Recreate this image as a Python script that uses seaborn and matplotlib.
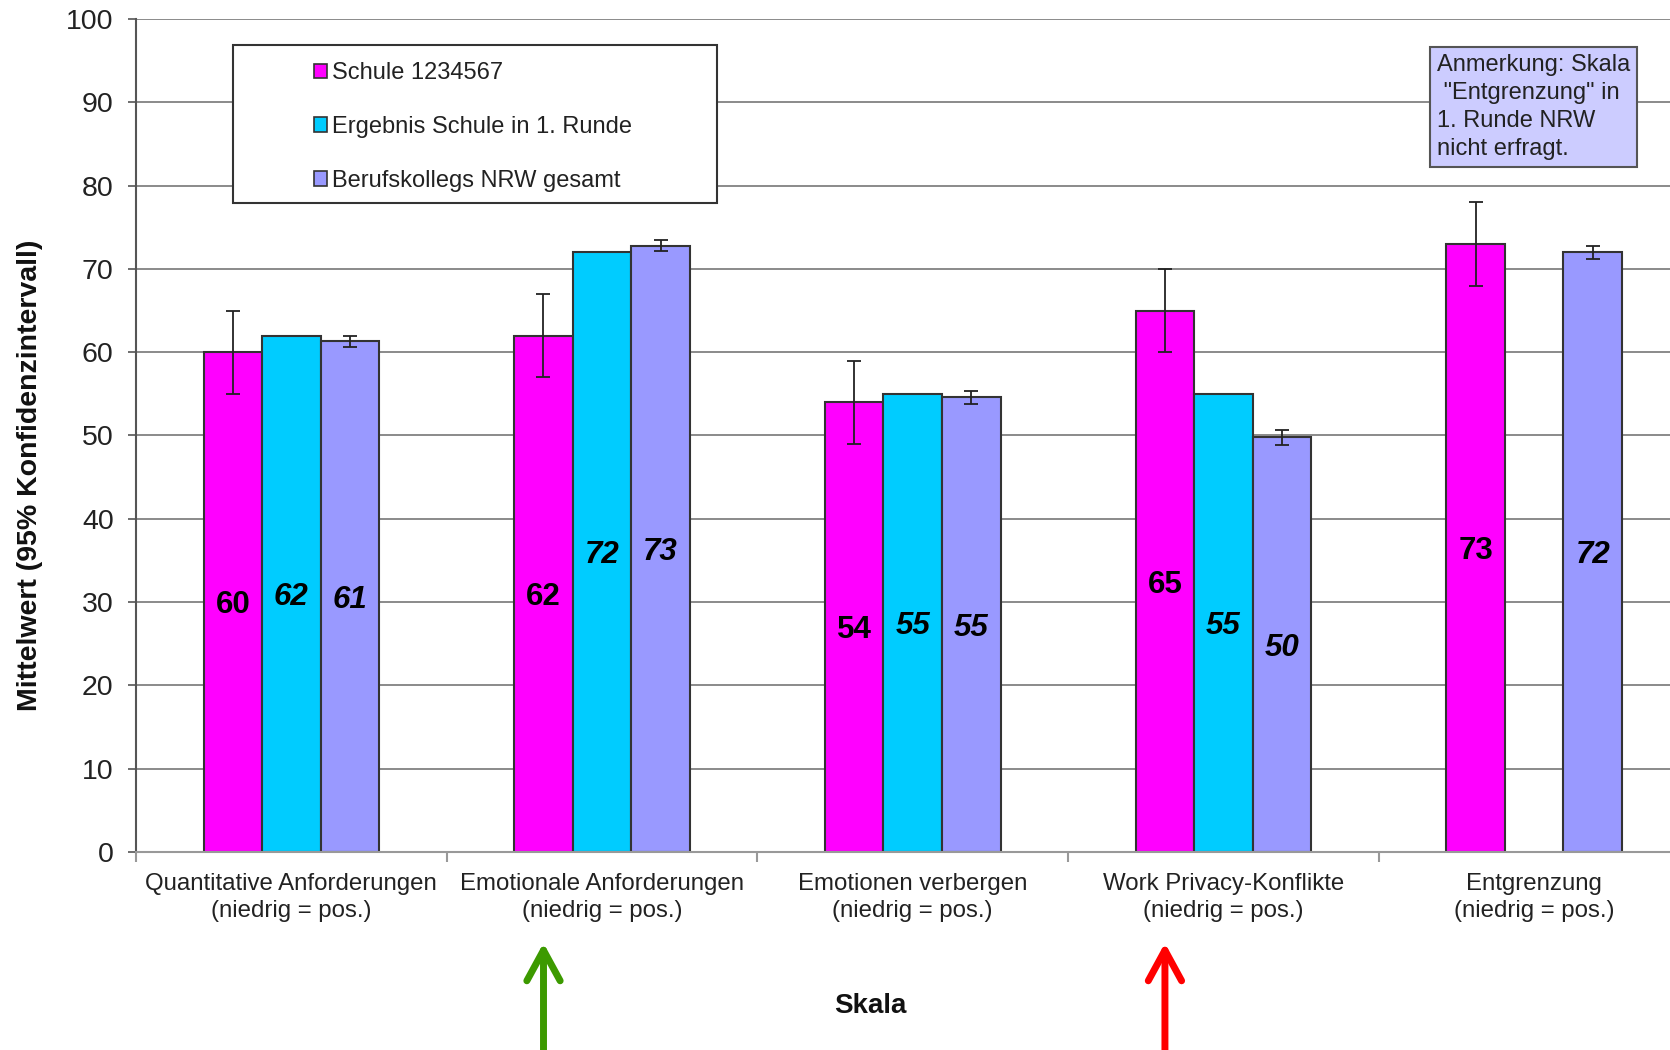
import numpy as np
import pandas as pd
import seaborn as sns
import matplotlib.pyplot as plt
import matplotlib.patches as mpatches

# Werte
skalen = ["Quantitative Anforderungen\n(niedrig = pos.)",
          "Emotionale Anforderungen\n(niedrig = pos.)",
          "Emotionen verbergen\n(niedrig = pos.)",
          "Work Privacy-Konflikte\n(niedrig = pos.)",
          "Entgrenzung\n(niedrig = pos.)"]
gruppen = ["Schule 1234567", "Ergebnis Schule in 1. Runde", "Berufskollegs NRW gesamt"]
schule = [60, 62, 54, 65, 73]
runde1 = [62, 72, 55, 55, np.nan]
nrw = [61.3, 72.8, 54.6, 49.8, 72]
schule_ci = [5, 5, 5, 5, 5]
nrw_ci = [0.7, 0.7, 0.8, 0.9, 0.8]
farben = ["#FF00FF", "#00CCFF", "#9999FF"]

df = pd.DataFrame({
    "Skala": skalen * 3,
    "Gruppe": [g for g in gruppen for _ in skalen],
    "Wert": schule + runde1 + nrw,
})

sns.set_theme(style="white")
plt.rcParams["font.family"] = ["Liberation Sans", "DejaVu Sans"]

fig = plt.figure(figsize=(16.7, 10.5), dpi=100)
ax = fig.add_axes([0.0814, 0.1886, 0.9303, 0.7933])

sns.barplot(data=df, x="Skala", y="Wert", hue="Gruppe", order=skalen, hue_order=gruppen,
            palette=farben, width=0.565, gap=0, errorbar=None, legend=False,
            edgecolor="#333333", linewidth=1.5, saturation=1, ax=ax)

ax.set_xlim(-0.5, 4.5)
ax.set_ylim(0, 100)
ax.set_yticks(range(0, 101, 10))
ax.yaxis.grid(True, color="#8a8a8a", lw=1.4)
ax.set_axisbelow(True)
ax.set_xlabel("")
ax.set_ylabel("")
for s in ["top", "right"]:
    ax.spines[s].set_visible(False)
ax.spines["left"].set_color("#555555")
ax.spines["left"].set_linewidth(1.5)
ax.spines["bottom"].set_color("#999999")
ax.spines["bottom"].set_linewidth(1.5)
ax.tick_params(axis="y", left=True, length=6, width=1.2, color="#555555", pad=10,
               labelsize=20.5, labelcolor="#222222")
ax.tick_params(axis="x", bottom=False, pad=9, labelsize=17.3, labelcolor="#222222")
ax.set_xticks(np.arange(-0.5, 4.6, 1), minor=True)
ax.tick_params(axis="x", which="minor", bottom=True, length=7, width=1.5, color="#999999")
for t in ax.get_xticklabels():
    t.set_linespacing(1.3)

# Fehlerbalken und Beschriftungen
ci_map = {0: schule_ci, 2: nrw_ci}
magenta_x = {}
bar_groups = list(ax.containers)
for i, cont in enumerate(bar_groups):
    for bar in cont.patches:
        h = bar.get_height()
        if np.isnan(h):
            continue
        xc = bar.get_x() + bar.get_width() / 2
        k = int(round(xc))
        if i in ci_map:
            ax.errorbar(xc, h, yerr=ci_map[i][k], fmt="none", ecolor="#222222",
                        elinewidth=1.3, capsize=5, capthick=1.3, zorder=5)
        if i == 0:
            magenta_x[k] = xc
        ax.text(xc, h / 2 - 0.4, f"{h:.0f}", ha="center", va="center", fontsize=22.5,
                fontweight="bold", style="normal" if i == 0 else "italic", color="black")

fig.text(30 / 1670, 1 - 475 / 1050, "Mittelwert (95% Konfidenzintervall)", rotation=90,
         ha="center", va="center", fontsize=20.5, fontweight="bold", color="#111111")
fig.text(870 / 1670, 1 - 1006 / 1050, "Skala", ha="center", va="center",
         fontsize=20, fontweight="bold", color="#111111")

# Legende
fig.patches.append(mpatches.Rectangle((233 / 1670, 1 - 203 / 1050), 484 / 1670, 158 / 1050,
                                      transform=fig.transFigure, fc="white", ec="#333333",
                                      lw=1.5, zorder=4))
handles = [mpatches.Patch(fc=c, ec="#333333", lw=1.2) for c in farben]
leg = fig.legend(handles, gruppen, loc="upper left", bbox_to_anchor=(314 / 1670, 1 - 62 / 1050),
                 frameon=False, fontsize=17, handlelength=0.55, handleheight=0.55,
                 handletextpad=0.2, labelspacing=1.35, borderpad=0, borderaxespad=0)
leg.set_zorder(5)
for t in leg.get_texts():
    t.set_color("#222222")

fig.text(1437 / 1670, 1 - 54 / 1050,
         "Anmerkung: Skala\n \"Entgrenzung\" in\n1. Runde NRW\nnicht erfragt.",
         ha="left", va="top", fontsize=17, linespacing=1.36, color="#222222",
         bbox=dict(boxstyle="square,pad=0.28", fc="#CCCCFF", ec="#555555", lw=1.5))

# Pfeile
for k, col in [(1, "#3c9a00"), (3, "#ff0000")]:
    ax.annotate("", xy=(magenta_x[k], 1 - 943 / 1050), xytext=(magenta_x[k], -0.01),
                xycoords=("data", "figure fraction"), textcoords=("data", "figure fraction"),
                annotation_clip=False,
                arrowprops=dict(arrowstyle="->,head_length=0.55,head_width=0.3",
                                mutation_scale=40, lw=5, color=col,
                                shrinkA=0, shrinkB=0, capstyle="round", joinstyle="round"))

fig.savefig("out.png", dpi=100)
